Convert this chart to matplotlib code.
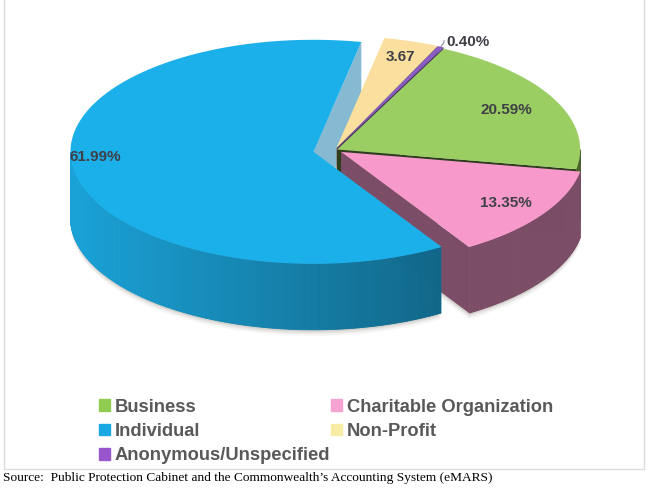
import numpy as np
import matplotlib.pyplot as plt
from matplotlib.patches import Polygon, Patch, Rectangle
from matplotlib.colors import to_rgb

# slices in clockwise order, starting at the top right
labels = ['Business', 'Charitable Organization', 'Individual', 'Non-Profit', 'Anonymous/Unspecified']
shares = [20.59, 13.35, 61.99, 3.67, 0.40]
pct_labels = ['20.59%', '13.35%', '61.99%', '3.67', '0.40%']
top_colors = ['#9acd62', '#f79acb', '#1cb0ea', '#fadf9e', '#8a5cc4']
legend_colors = ['#8fcc50', '#f5a3d0', '#1aa8e2', '#f6eca4', '#9955cc']
explode = [0.01, 0.03, 0.09, 0.02, 0.02]
label_r = [0.78, 0.82, 0.9, 0.85, 1.05]
label_dt = [0, 0, -7, 0, 0]

# projected pie geometry (pixels)
cx, cy, rx, ry, depth = 335, 150, 243, 112, 66
start = 64


def shade(c, f):
    return tuple(np.clip(np.array(to_rgb(c)) * f, 0, 1))


def rim(ox, oy, t, r=1.0):
    t = np.radians(t)
    return ox + rx * r * np.cos(t), oy - ry * r * np.sin(t)


fig = plt.figure(figsize=(6.5, 4.88), dpi=100)
ax = fig.add_axes([0, 0, 1, 1])
ax.set_xlim(0, 650)
ax.set_ylim(488, 0)
ax.axis('off')

bounds = start - np.cumsum([0] + shares) * 3.6
slices = []
for i in range(len(shares)):
    t1, t2 = bounds[i], bounds[i + 1]
    mid = np.radians((t1 + t2) / 2)
    ox = cx + rx * explode[i] * np.cos(mid)
    oy = cy - ry * explode[i] * np.sin(mid)
    slices.append((t1, t2, ox, oy))

# soft shadow under the pie
for k, a in [(6, 0.05), (4, 0.08), (2, 0.12)]:
    for i, (t1, t2, ox, oy) in enumerate(slices):
        ts = np.linspace(t2, t1, 200)
        xs, ys = rim(ox, oy + depth + k, ts)
        pts = [(ox, oy + depth + k)] + list(zip(xs, ys))
        ax.add_patch(Polygon(pts, closed=True, fc=(0.3, 0.25, 0.2), ec='none', alpha=a))

# cut faces, back to front
faces = []
for i, (t1, t2, ox, oy) in enumerate(slices):
    edges = []
    if np.cos(np.radians(t1)) < 0:
        edges.append(t1)
    if np.cos(np.radians(t2)) > 0:
        edges.append(t2)
    for t in edges:
        x, y = rim(ox, oy, t)
        pts = [(ox, oy), (x, y), (x, y + depth), (ox, oy + depth)]
        if i == 2:
            col = '#86b9d2'
        else:
            col = shade(top_colors[i], 0.3 if i == 0 else 0.5)
        faces.append(((oy + y) / 2, pts, col))
for _, pts, col in sorted(faces, key=lambda f: f[0]):
    ax.add_patch(Polygon(pts, closed=True, fc=col, ec='none'))

# outer walls (front half only), shaded strip by strip
for i, (t1, t2, ox, oy) in enumerate(slices):
    ts = np.arange(t2, t1 + 0.01, 0.5)
    for a, b in zip(ts[:-1], ts[1:]):
        m = np.radians((a + b) / 2)
        if np.sin(m) >= 0:
            continue
        f = 0.48 + 0.44 * (1 - np.cos(m)) / 2
        if i == 1:
            f = 0.5
        xa, ya = rim(ox, oy, a)
        xb, yb = rim(ox, oy, b)
        pts = [(xa, ya), (xb, yb), (xb, yb + depth), (xa, ya + depth)]
        col = shade(top_colors[i], f)
        ax.add_patch(Polygon(pts, closed=True, fc=col, ec=col, lw=0.6))

# top faces
for i, (t1, t2, ox, oy) in enumerate(slices):
    ts = np.linspace(t2, t1, 300)
    xs, ys = rim(ox, oy, ts)
    pts = [(ox, oy)] + list(zip(xs, ys))
    ax.add_patch(Polygon(pts, closed=True, fc=top_colors[i], ec='none'))

# value labels
for i, (t1, t2, ox, oy) in enumerate(slices):
    mid = (t1 + t2) / 2 + label_dt[i]
    x, y = rim(ox, oy, mid, label_r[i])
    ha = 'left' if i == 4 else 'center'
    ax.text(x, y, pct_labels[i], ha=ha, va='center', fontsize=11, fontweight='bold',
            family='Liberation Sans', color='#3f3f46')
    if i == 4:
        x0, y0 = rim(ox, oy, mid, 1.0)
        ax.plot([x0, x0 + 3, x - 2], [y0, y0 - 4, y0 - 6], color='#9090a0', lw=0.8)

# frame around the chart
ax.add_patch(Rectangle((4, -5), 640, 474, fill=False, ec='#dcdcdc', lw=1))

order = [0, 2, 4, 1, 3]
handles = [Patch(color=legend_colors[i], label=labels[i]) for i in order]
fig.legend(handles=handles, loc='upper left', bbox_to_anchor=(82 / 650, 1 - 382 / 488),
           ncol=2, frameon=False, handlelength=0.6, handleheight=0.6, handletextpad=0.3,
           labelspacing=0.4, columnspacing=0.0, labelcolor='#595959',
           prop={'family': 'Liberation Sans', 'weight': 'bold', 'size': 13.2})

ax.text(3, 478, 'Source:  Public Protection Cabinet and the Commonwealth\u2019s Accounting System (eMARS)',
        ha='left', va='center', fontsize=9.6, family='Liberation Serif', color='black')

fig.savefig('out.png', dpi=100)
